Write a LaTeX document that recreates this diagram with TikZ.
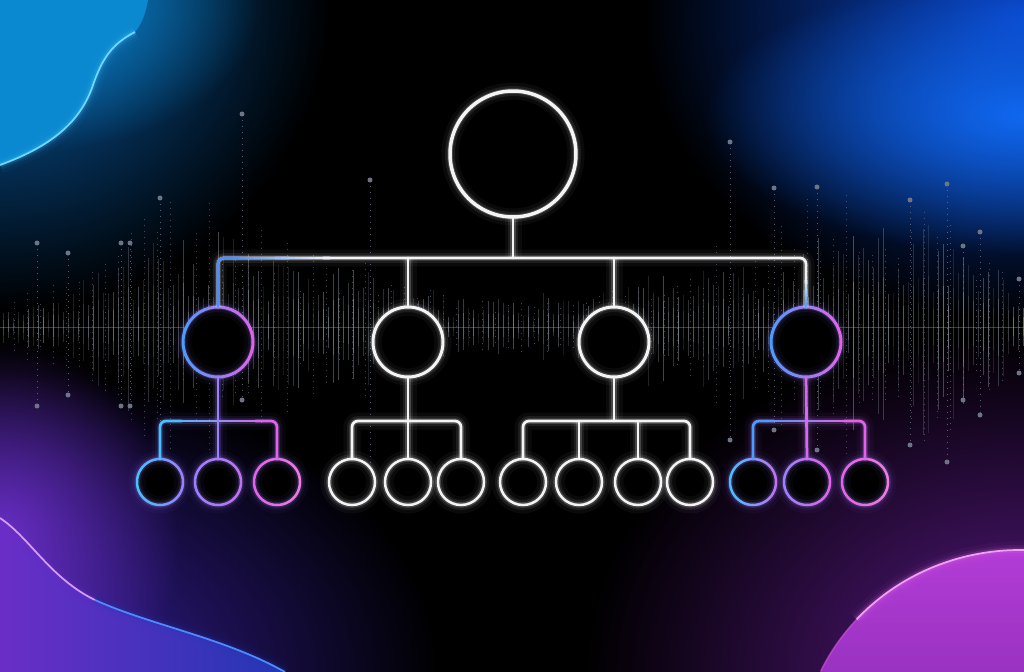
\documentclass[tikz,border=0pt]{standalone}
\usetikzlibrary{calc,fadings}

\definecolor{neonwhite}{HTML}{F4F4F6}
\definecolor{ncyan}{HTML}{40C4FF}
\definecolor{nazure}{HTML}{4A9CFF}
\definecolor{nblue}{HTML}{4C8CFF}
\definecolor{nviolet}{HTML}{9C80FF}
\definecolor{norchid}{HTML}{C272F2}
\definecolor{npink}{HTML}{E462EA}
\definecolor{nrose}{HTML}{F07ADE}
\definecolor{tlcyan}{HTML}{0A88D0}
\definecolor{tlblue}{HTML}{0A60B0}
\definecolor{tledge}{HTML}{70D8FF}
\definecolor{trnavy}{HTML}{0A44C8}
\definecolor{trblue}{HTML}{1068F0}
\definecolor{blviolet}{HTML}{6A2EC6}
\definecolor{blindigo}{HTML}{2436B4}
\definecolor{blhaze}{HTML}{3A22A8}
\definecolor{brmag}{HTML}{B23CD6}
\definecolor{brplum}{HTML}{5E1A8E}
\definecolor{brhaze}{HTML}{5A1A86}
\definecolor{wavegray}{HTML}{A8B0BC}
\definecolor{pingray}{HTML}{6C7486}

\tikzfading[name=softglow, inner color=transparent!0, outer color=transparent!100]

\tikzset{
  halo/.style={preaction={draw=#1, line width=0.34cm, draw opacity=0.04},
               preaction={draw=#1, line width=0.2cm, draw opacity=0.08},
               preaction={draw=#1, line width=0.11cm, draw opacity=0.18}},
  wire/.style={draw=neonwhite, line width=0.055cm, line cap=round, line join=round, rounded corners=0.12cm},
  whtnode/.style={circle, inner sep=0pt, outer sep=0pt, preaction={fill=black}, halo=white, draw=neonwhite},
  colnode/.style={circle, inner sep=0pt, outer sep=0pt, preaction={fill=black}, halo=nviolet},
  topsize/.style={minimum size=2.52cm, line width=0.07cm},
  midsize/.style={minimum size=1.4cm, line width=0.06cm},
  leafsize/.style={minimum size=0.92cm, line width=0.05cm},
  wave/.style={draw=wavegray, line width=0.02cm},
  pin/.style={draw=pingray, line width=0.02cm, dash pattern=on 0.02cm off 0.1cm},
}

% ring whose colour runs from #3 (left) to #4 (right)
\newcommand\neonring[5]{%
  \foreach \a in {0,15,...,345}{%
    \pgfmathtruncatemacro\pc{50*(1-cos(\a+7.5))}%
    \draw[draw=#3!\pc!#4, line width=#5, line cap=round]
      (#1.center) ++(\a:#2) arc[start angle=\a, delta angle=15, radius=#2];
  }}

% straight wire whose colour runs from #3 to #4
\newcommand\fadeline[5]{%
  \foreach \k in {1,...,#5}{%
    \pgfmathsetmacro\ta{(\k-1)/#5}%
    \pgfmathsetmacro\tb{\k/#5}%
    \pgfmathtruncatemacro\pc{100-100*(\k-0.5)/#5}%
    \draw[wire, draw=#3!\pc!#4] ($(#1)!\ta!(#2)$) -- ($(#1)!\tb!(#2)$);
  }}

\begin{document}
\begin{tikzpicture}[x=0.02cm, y=-0.02cm]
\useasboundingbox (0,0) rectangle (1024,672);
\clip (0,0) rectangle (1024,672);
\fill[black] (0,0) rectangle (1024,672);

% corner glows
\fill[tlblue, path fading=softglow] (0,0) ellipse [x radius=330, y radius=310];
\fill[tlcyan, path fading=softglow] (40,0) ellipse [x radius=220, y radius=150];
\fill[tlcyan] (0,0) -- (0,165) .. controls (55,145) and (80,120) .. (92,88)
  .. controls (102,58) and (112,44) .. (135,32) .. controls (142,24) and (146,12) .. (148,0) -- cycle;
\draw[tledge, line width=0.035cm, halo=ncyan] (0,165) .. controls (55,145) and (80,120) .. (92,88)
  .. controls (102,58) and (112,44) .. (135,32);

\fill[trnavy, path fading=softglow] (1024,20) ellipse [x radius=380, y radius=300];
\fill[trblue, path fading=softglow] (1024,115) ellipse [x radius=320, y radius=140];

\fill[blhaze, path fading=softglow] (0,672) ellipse [x radius=440, y radius=300];
\fill[blviolet, path fading=softglow] (0,540) ellipse [x radius=180, y radius=200];
\fill[left color=blviolet, right color=blindigo] (0,518) .. controls (30,538) and (50,578) .. (95,600)
  .. controls (150,625) and (225,638) .. (285,672) -- (0,672) -- cycle;
\draw[draw=norchid!70!white, line width=0.035cm, halo=blviolet] (0,518) .. controls (30,538) and (50,578) .. (95,600);
\draw[draw=nblue, line width=0.035cm, halo=blindigo] (95,600) .. controls (150,625) and (225,638) .. (285,672);

\fill[brhaze, path fading=softglow] (1024,672) ellipse [x radius=440, y radius=340];
\fill[top color=brmag, bottom color=brplum] (1020,760) ellipse [x radius=220, y radius=210];
\draw[npink!60!white, line width=0.035cm, halo=npink] (1020,760) ++(222:220 and 210)
  arc[start angle=222, end angle=290, x radius=220, y radius=210];
\draw[npink, line width=0.03cm, draw opacity=0.5] (1020,760) ++(205:220 and 210)
  arc[start angle=205, end angle=222, x radius=220, y radius=210];

% sound wave
\pgfmathsetseed{11}
\draw[wavegray, line width=0.015cm, draw opacity=0.35] (0,327) -- (1024,327);
\foreach \x in {3,8,...,1023}{
  \pgfmathsetmacro\env{10+85/(1+((\x-195)/110)^4)+95/(1+((\x-880)/120)^4)+35/(1+((\x-380)/60)^4)+35/(1+((\x-680)/70)^4)+20/(1+((\x-530)/60)^4)}
  \pgfmathsetmacro\h{\env*(0.3+0.7*rnd)}
  \pgfmathsetmacro\d{\h*(0.7+0.5*rnd)}
  \pgfmathsetmacro\op{0.12+0.3*rnd}
  \draw[wave, draw opacity=\op] (\x,327-\h) -- (\x,327+\d);
  \draw[wave, draw opacity=\op] (\x,327-0.5*\h) -- (\x,327+0.5*\d);
}
\foreach \x in {14,27,...,1014}{
  \pgfmathsetmacro\env{20+110/(1+((\x-195)/110)^4)+120/(1+((\x-880)/120)^4)+40/(1+((\x-380)/60)^4)+40/(1+((\x-680)/70)^4)}
  \pgfmathsetmacro\h{\env*(0.4+0.6*rnd)}
  \draw[pin, draw opacity=0.6] (\x,327-\h) -- (\x,327+\h);
}
\foreach \x/\ya/\yb in {37/243/406, 68/253/395, 121/243/406, 130/243/406, 160/198/460, 242/114/400,
    370/180/470, 730/142/440, 774/188/430, 817/187/450, 910/200/445, 947/184/462, 963/246/400,
    980/232/415, 1019/279/373}{
  \draw[pin, draw opacity=0.8] (\x,\ya) -- (\x,\yb);
  \fill[pingray] (\x,\ya) circle[radius=2.5];
  \fill[pingray] (\x,\yb) circle[radius=2.5];
}

% tree nodes
\node[whtnode, topsize] (root) at (513,154) {};
\node[colnode, midsize] (mgrA) at (218,342) {};
\node[whtnode, midsize] (mgrB) at (408,342) {};
\node[whtnode, midsize] (mgrC) at (614,342) {};
\node[colnode, midsize] (mgrD) at (806,342) {};
\foreach \nm/\x in {a1/160, a2/218, a3/277, d1/753, d2/807, d3/865}
  \node[colnode, leafsize] (\nm) at (\x,482) {};
\foreach \nm/\x in {b1/352, b2/408, b3/461, c1/523, c2/579, c3/638, c4/690}
  \node[whtnode, leafsize] (\nm) at (\x,482) {};

\neonring{mgrA}{35}{nazure}{npink}{0.06cm}
\neonring{mgrD}{35}{nazure}{npink}{0.06cm}
\neonring{a1}{23}{ncyan}{nviolet}{0.05cm}
\neonring{a2}{23}{nviolet}{norchid}{0.05cm}
\neonring{a3}{23}{npink}{nrose}{0.05cm}
\neonring{d1}{23}{ncyan}{norchid}{0.05cm}
\neonring{d2}{23}{nviolet}{npink}{0.05cm}
\neonring{d3}{23}{npink}{nrose}{0.05cm}

% joints
\coordinate (top) at (513,258);
\coordinate (jA) at (218,421);
\coordinate (jB) at (408,421);
\coordinate (jC) at (614,421);
\coordinate (jD) at (807,421);

% upper level
\draw[wire, halo=white] (root.south) -- (top);
\draw[wire, halo=white] (mgrA.north) |- (top) -| (mgrD.north);
\draw[wire, halo=white] (mgrB.north) -- (mgrB.north |- top);
\draw[wire, halo=white] (mgrC.north) -- (mgrC.north |- top);
\coordinate (tl) at ($(mgrA.north |- top)+(16,0)$);
\coordinate (tlw) at ($(mgrA.north |- top)+(112,0)$);
\coordinate (tr) at ($(mgrD.north |- top)+(0,22)$);
\draw[wire, draw=nblue] (mgrA.north) |- (tl);
\fadeline{tl}{tlw}{nblue}{neonwhite}{14}
\fadeline{tr}{mgrD.north}{neonwhite}{nazure}{8}

% white subtrees
\draw[wire, halo=white] (mgrB.south) -- (b2.north);
\draw[wire, halo=white] (b1.north) |- (jB) -| (b3.north);
\draw[wire, halo=white] (mgrC.south) -- (jC);
\draw[wire, halo=white] (c1.north) |- (jC) -| (c4.north);
\draw[wire, halo=white] (c2.north) -- (c2.north |- jC);
\draw[wire, halo=white] (c3.north) -- (c3.north |- jC);

% coloured subtrees
\path[halo=nviolet, rounded corners=0.12cm] (a1.north) |- (jA) -| (a3.north);
\path[halo=nviolet] (mgrA.south) -- (a2.north);
\coordinate (pA) at ($(a1.north |- jA)+(14,0)$);
\coordinate (qA) at ($(a3.north |- jA)+(-14,0)$);
\draw[wire, draw=ncyan] (a1.north) |- (pA);
\fadeline{pA}{qA}{ncyan}{npink}{12}
\draw[wire, draw=npink] (qA) -| (a3.north);
\draw[wire, draw=nviolet] (mgrA.south) -- (a2.north);

\path[halo=norchid, rounded corners=0.12cm] (d1.north) |- (jD) -| (d3.north);
\path[halo=norchid] (mgrD.south) -- (d2.north);
\coordinate (pD) at ($(d1.north |- jD)+(14,0)$);
\coordinate (qD) at ($(d3.north |- jD)+(-14,0)$);
\draw[wire, draw=nazure] (d1.north) |- (pD);
\fadeline{pD}{qD}{nazure}{npink}{12}
\draw[wire, draw=npink] (qD) -| (d3.north);
\draw[wire, draw=norchid!60!npink] (mgrD.south) -- (d2.north);
\end{tikzpicture}
\end{document}
